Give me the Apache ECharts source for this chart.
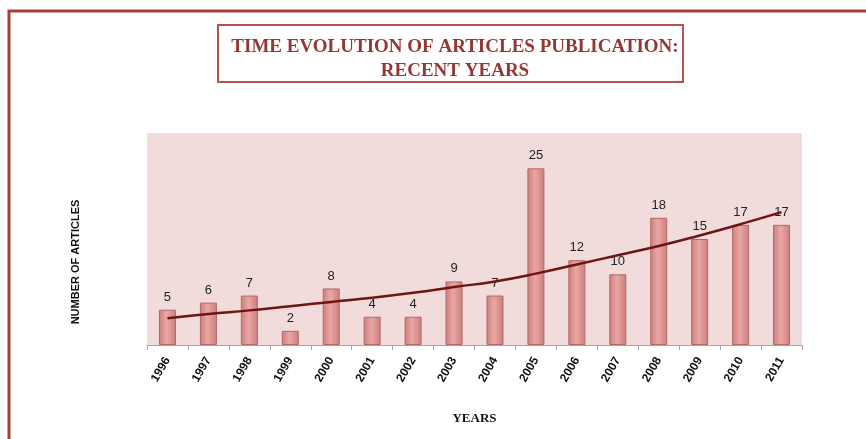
<!DOCTYPE html>
<html>
<head>
<meta charset="utf-8">
<script src="https://cdn.jsdelivr.net/npm/echarts@6/dist/echarts.min.js"></script>
<style>
  html, body { margin: 0; padding: 0; background: #fff; }
  #chart { width: 866px; height: 439px; }
</style>
</head>
<body>
<div id="chart"></div>
<script>
const years = ['1996', '1997', '1998', '1999', '2000', '2001', '2002', '2003',
               '2004', '2005', '2006', '2007', '2008', '2009', '2010', '2011'];
const articles = [5, 6, 7, 2, 8, 4, 4, 9, 7, 25, 12, 10, 18, 15, 17, 17];
// trend curve
const trend = [3.8, 4.4, 4.9, 5.5, 6.1, 6.7, 7.4, 8.2, 9.0, 10.1, 11.4, 12.7, 14.0, 15.5, 17.1, 18.8];

const myChart = echarts.init(document.getElementById('chart'));

const option = {
    animation: false,
    title: {
        text: 'TIME EVOLUTION OF ARTICLES PUBLICATION:\nRECENT YEARS',
        left: 450,
        top: 30,
        textAlign: 'center',
        textStyle: {
            fontFamily: 'Liberation Serif',
            fontWeight: 'bold',
            fontSize: 19,
            lineHeight: 24,
            color: '#953735'
        }
    },
    graphic: [
        {
            // outer chart frame (only left and top are in view)
            type: 'polyline',
            shape: { points: [[9, 439], [9, 11], [866, 11]] },
            style: { stroke: '#a3403e', lineWidth: 3, fill: null }
        },
        {
            type: 'rect',
            shape: { x: 218, y: 25, width: 465, height: 57 },
            style: { stroke: '#b5524f', lineWidth: 2, fill: null }
        },
        {
            type: 'text',
            x: 76,
            y: 262,
            rotation: Math.PI / 2,
            style: {
                text: 'NUMBER OF ARTICLES',
                fontFamily: 'Liberation Sans',
                fontWeight: 'bold',
                fontSize: 11,
                fill: '#111',
                align: 'center',
                verticalAlign: 'middle'
            }
        }
    ],
    grid: {
        left: 147,
        right: 64,
        top: 133,
        bottom: 94,
        show: true,
        backgroundColor: '#f2dcdb',
        borderWidth: 0
    },
    xAxis: {
        type: 'category',
        data: years,
        name: 'YEARS',
        nameLocation: 'middle',
        nameGap: 67,
        nameTextStyle: {
            fontFamily: 'Liberation Serif',
            fontWeight: 'bold',
            fontSize: 13,
            color: '#111'
        },
        axisLine: { lineStyle: { color: '#a6a6a6' } },
        axisTick: { show: true, length: 5, lineStyle: { color: '#a6a6a6' } },
        axisLabel: {
            rotate: 60,
            margin: 13,
            fontFamily: 'Liberation Sans',
            fontWeight: 'bold',
            fontSize: 12,
            color: '#111'
        }
    },
    yAxis: {
        type: 'value',
        min: 0,
        max: 30,
        show: false,
        splitLine: { show: false }
    },
    series: [
        {
            type: 'bar',
            data: articles,
            barWidth: 17,
            itemStyle: {
                color: new echarts.graphic.LinearGradient(0, 0, 1, 0, [
                    { offset: 0, color: '#c97f7d' },
                    { offset: 0.45, color: '#eba6a4' },
                    { offset: 1, color: '#c97f7d' }
                ]),
                borderColor: '#b26866',
                borderWidth: 1
            },
            label: {
                show: true,
                position: 'top',
                distance: 6,
                fontFamily: 'Liberation Sans',
                fontSize: 13,
                color: '#222'
            }
        },
        {
            type: 'line',
            data: trend,
            smooth: true,
            symbol: 'none',
            z: 5,
            lineStyle: { color: '#6e1414', width: 2.5 }
        }
    ]
};
myChart.setOption(option);
</script>
</body>
</html>
